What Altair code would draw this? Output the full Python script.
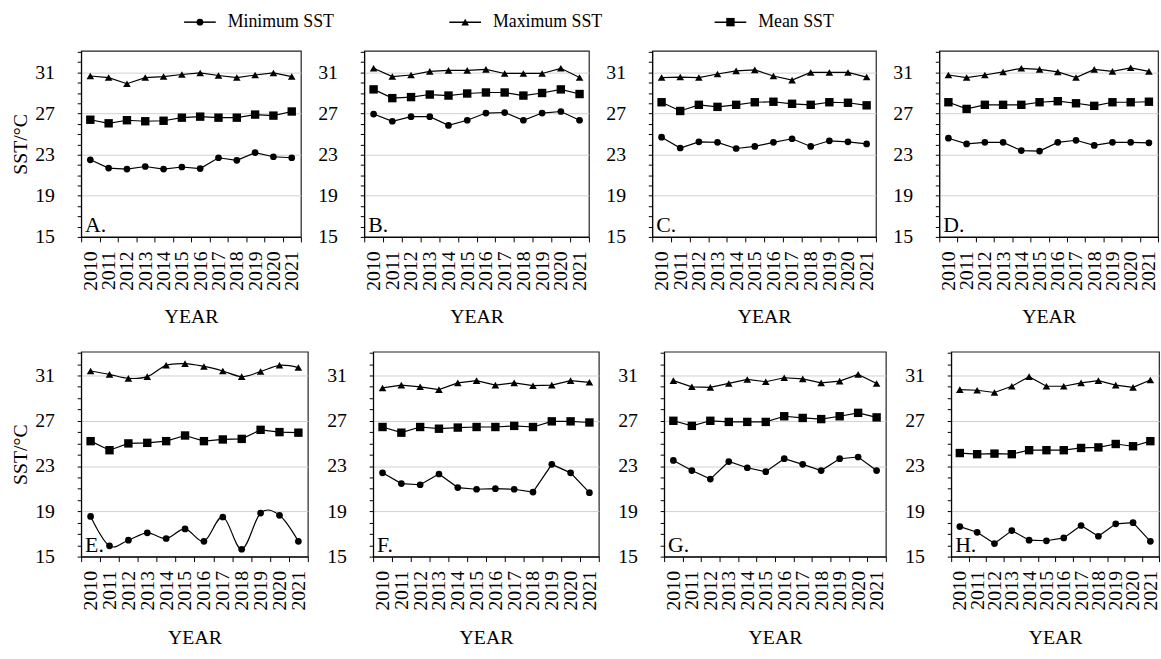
import altair as alt
import pandas as pd

YEARS = list(range(2010, 2022))
SERIES = ["Minimum SST", "Maximum SST", "Mean SST"]
SHAPES = ["circle", "triangle-up", "square"]
MARK_SIZES = [46, 72, 58]

A_MIN = [22.5, 21.7, 21.6, 21.85, 21.6, 21.8, 21.65, 22.7, 22.45, 23.2, 22.8, 22.7]
A_MAX = [30.65, 30.5, 29.9, 30.5, 30.6, 30.8, 30.95, 30.7, 30.5, 30.75, 30.95, 30.6]
A_MEAN = [26.4, 26.05, 26.35, 26.25, 26.3, 26.6, 26.7, 26.6, 26.6, 26.9, 26.8, 27.2]
B_MIN = [26.95, 26.25, 26.7, 26.7, 25.85, 26.35, 27.05, 27.1, 26.35, 27.05, 27.2, 26.35]
B_MAX = [31.4, 30.6, 30.75, 31.1, 31.2, 31.2, 31.3, 30.9, 30.9, 30.9, 31.4, 30.5]
B_MEAN = [29.35, 28.5, 28.6, 28.85, 28.75, 28.95, 29.05, 29.05, 28.75, 29.0, 29.35, 28.9]
C_MIN = [24.7, 23.65, 24.25, 24.2, 23.6, 23.8, 24.2, 24.55, 23.8, 24.35, 24.25, 24.05]
C_MAX = [30.5, 30.55, 30.5, 30.85, 31.15, 31.25, 30.65, 30.25, 31.0, 31.0, 31.0, 30.55]
C_MEAN = [28.1, 27.25, 27.85, 27.65, 27.85, 28.1, 28.15, 27.95, 27.85, 28.1, 28.05, 27.8]
D_MIN = [24.6, 24.05, 24.2, 24.2, 23.4, 23.35, 24.2, 24.4, 23.9, 24.2, 24.2, 24.15]
D_MAX = [30.75, 30.5, 30.75, 31.05, 31.4, 31.3, 31.05, 30.5, 31.3, 31.1, 31.45, 31.1]
D_MEAN = [28.1, 27.45, 27.85, 27.85, 27.85, 28.1, 28.2, 28.0, 27.75, 28.1, 28.1, 28.15]
E_MIN = [18.55, 15.95, 16.45, 17.1, 16.6, 17.45, 16.35, 18.5, 15.65, 18.85, 18.65, 16.35]
E_MAX = [31.4, 31.1, 30.75, 30.9, 31.9, 32.05, 31.8, 31.4, 30.9, 31.35, 31.9, 31.7]
E_MEAN = [25.2, 24.4, 25.0, 25.05, 25.2, 25.7, 25.2, 25.35, 25.4, 26.2, 26.0, 25.95]
F_MIN = [22.4, 21.45, 21.35, 22.3, 21.1, 20.95, 21.0, 20.95, 20.7, 23.15, 22.4, 20.65]
F_MAX = [29.9, 30.15, 30.0, 29.75, 30.35, 30.55, 30.15, 30.35, 30.1, 30.15, 30.55, 30.4]
F_MEAN = [26.45, 25.95, 26.45, 26.3, 26.4, 26.45, 26.45, 26.55, 26.45, 26.95, 26.95, 26.85]
G_MIN = [23.5, 22.6, 21.85, 23.4, 22.85, 22.5, 23.65, 23.15, 22.6, 23.65, 23.8, 22.6]
G_MAX = [30.55, 30.0, 29.95, 30.3, 30.65, 30.45, 30.8, 30.7, 30.35, 30.5, 31.1, 30.3]
G_MEAN = [27.0, 26.55, 27.0, 26.9, 26.9, 26.9, 27.4, 27.25, 27.15, 27.4, 27.7, 27.3]
H_MIN = [17.65, 17.15, 16.15, 17.3, 16.45, 16.4, 16.65, 17.75, 16.8, 17.9, 18.0, 16.35]
H_MAX = [29.75, 29.7, 29.5, 30.05, 30.9, 30.05, 30.05, 30.35, 30.55, 30.15, 29.95, 30.6]
H_MEAN = [24.15, 24.05, 24.1, 24.05, 24.4, 24.4, 24.4, 24.6, 24.65, 24.95, 24.75, 25.2]

Y_TICKS = list(range(15, 34))
FONT = "'Liberation Serif', 'Times New Roman', serif"

shape_scale = alt.Scale(domain=SERIES, range=SHAPES)
size_scale = alt.Scale(domain=SERIES, range=MARK_SIZES)


def panel(letter, mn, mx, me, width, height, show_title, x_title_pad, smooth=()):
    df = pd.DataFrame({
        "year": YEARS * 3,
        "value": mn + mx + me,
        "series": [SERIES[0]] * 12 + [SERIES[1]] * 12 + [SERIES[2]] * 12,
    })
    x = alt.X(
        "year:O",
        scale=alt.Scale(paddingInner=0, paddingOuter=0),
        axis=alt.Axis(
            title="YEAR", labelAngle=270, tickBand="extent", tickSize=5,
            labelPadding=9, titlePadding=x_title_pad, labelAlign="right", labelBaseline="middle",
        ),
    )
    yaxis_kwargs = dict(
        values=Y_TICKS,
        labelExpr="(datum.value - 15) % 4 == 0 && datum.value <= 31 ? datum.label : ''",
        tickSize=4, labelPadding=23, titlePadding=4, grid=True,
        gridOpacity={"condition": {"test": "(datum.value - 15) % 4 == 0 && datum.value > 15", "value": 1}, "value": 0},
    )
    yaxis_kwargs["title"] = "SST/°C" if show_title else None
    y = alt.Y("value:Q", scale=alt.Scale(domain=[15, 33.1], nice=False, zero=False),
              axis=alt.Axis(**yaxis_kwargs))
    base = alt.Chart(df)
    layers = []
    for s in SERIES:
        interp = "cardinal" if s in smooth else "linear"
        layers.append(
            base.transform_filter(alt.datum.series == s)
            .mark_line(color="black", strokeWidth=1.2, interpolate=interp)
            .encode(x=x, y=y)
        )
    layers.append(
        base.mark_point(filled=True, color="black", opacity=1).encode(
            x=x, y=y,
            shape=alt.Shape("series:N", scale=shape_scale, legend=None),
            size=alt.Size("series:N", scale=size_scale, legend=None),
        )
    )
    lab = pd.DataFrame({"label": [letter]})
    layers.append(
        alt.Chart(lab).mark_text(align="left", baseline="alphabetic", font=FONT,
                                 fontSize=22, color="black")
        .encode(text="label:N", x=alt.value(4), y=alt.value(height - 5))
    )
    return alt.layer(*layers).properties(width=width, height=height)


# legend built from series names
legend_df = pd.DataFrame({"series": SERIES})
lx = alt.X("series:N", sort=SERIES, axis=None,
           scale=alt.Scale(paddingInner=0, paddingOuter=0))
leg_line = alt.Chart(legend_df).mark_tick(orient="horizontal", size=32, thickness=1.5,
                                          color="black", opacity=1, xOffset=-14).encode(
    x=lx, y=alt.value(13))
leg_pt = alt.Chart(legend_df).mark_point(filled=True, color="black", opacity=1, xOffset=-14).encode(
    x=lx, y=alt.value(13),
    shape=alt.Shape("series:N", scale=shape_scale, legend=None),
    size=alt.Size("series:N", scale=size_scale, legend=None),
)
leg_txt = alt.Chart(legend_df).mark_text(align="left", baseline="middle", dx=14,
                                         font=FONT, fontSize=18, color="black").encode(
    x=lx, y=alt.value(13), text="series:N")
legend = alt.layer(leg_line, leg_pt, leg_txt).properties(
    width=804, height=26, view=alt.ViewBackground(stroke="transparent"))

H1 = 188
H2 = 207
row1 = alt.hconcat(
    panel("A.", A_MIN, A_MAX, A_MEAN, 222, H1, True, 16),
    panel("B.", B_MIN, B_MAX, B_MEAN, 227, H1, False, 16),
    panel("C.", C_MIN, C_MAX, C_MEAN, 226, H1, False, 16),
    panel("D.", D_MIN, D_MAX, D_MEAN, 221, H1, False, 16),
    spacing=14,
)
row2 = alt.hconcat(
    panel("E.", E_MIN, E_MAX, E_MEAN, 229, H2, True, 18, smooth=("Minimum SST", "Maximum SST")),
    panel("F.", F_MIN, F_MAX, F_MEAN, 228, H2, False, 18),
    panel("G.", G_MIN, G_MAX, G_MEAN, 224, H2, False, 18),
    panel("H.", H_MIN, H_MAX, H_MEAN, 210, H2, False, 18),
    spacing=16,
)

grid = alt.vconcat(row1, row2, spacing=24)

chart = alt.vconcat(legend, grid, spacing=14).properties(
    padding={"left": 10, "top": 5, "right": 0, "bottom": 0},
    background="white",
).configure_view(
    stroke="#222222", strokeWidth=1.2
).configure_axis(
    labelFont=FONT, labelFontSize=20, labelColor="black",
    titleFont=FONT, titleFontSize=20, titleFontWeight="normal", titleColor="black",
    domainColor="black", tickColor="black", gridColor="#d0d0d0", gridWidth=1,
)

chart.save("out.html", embed_options={"renderer": "svg", "actions": False})
